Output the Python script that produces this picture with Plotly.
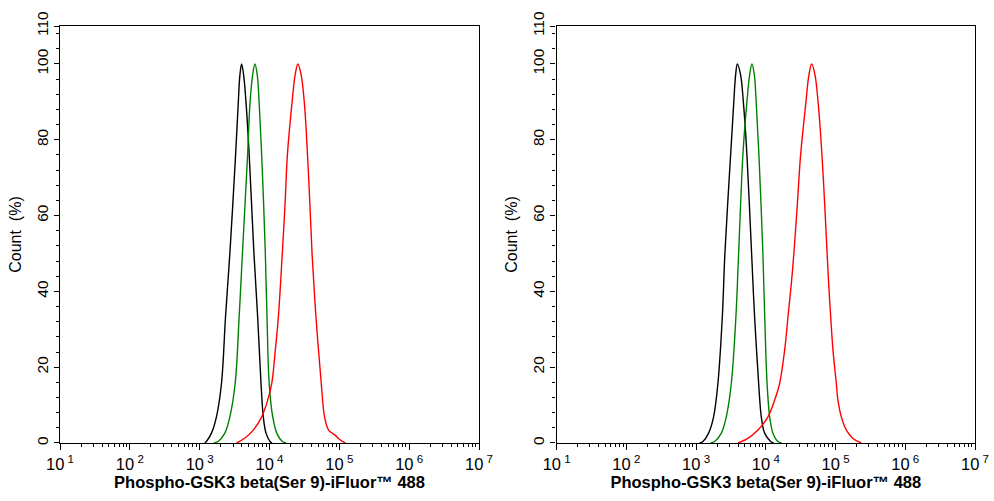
import numpy as np
import plotly.graph_objects as go

# ---- data (log10 fluorescence intensity, count %) ----
# Left panel
L_black_log = [3.072, 3.096, 3.168, 3.240, 3.312, 3.370, 3.432, 3.514, 3.551, 3.576, 3.600,
               3.629, 3.666, 3.709, 3.777, 3.830, 3.878, 3.911, 3.950, 4.007, 4.036]
L_black_y = [0, 0.4, 2.6, 6.9, 15.7, 33.3, 50, 76, 89.2, 97.1, 100,
             97.1, 89.2, 76, 50, 33.3, 15.7, 6.9, 2.6, 0.4, 0]
L_green_log = [3.201, 3.263, 3.360, 3.432, 3.508, 3.565, 3.612, 3.686, 3.719, 3.758, 3.791,
               3.824, 3.853, 3.888, 3.940, 3.964, 3.995, 4.046, 4.104, 4.184, 4.237]
L_green_y = [0, 0.4, 2.6, 6.9, 15.7, 33.3, 50, 76, 89.2, 97.1, 100,
             97.1, 89.2, 76, 50, 33.3, 15.7, 6.9, 2.6, 0.4, 0]
L_red_log = [3.528, 3.647, 3.767, 3.888, 3.974, 4.032, 4.083, 4.127, 4.183, 4.222, 4.256, 4.319, 4.367,
             4.406, 4.453, 4.501, 4.544, 4.578, 4.609, 4.665, 4.741, 4.788, 4.846, 4.942, 5.014, 5.086]
L_red_y = [0, 1.3, 3.4, 6.9, 11.3, 15.7, 24.5, 33.3, 50, 63, 76, 89.2, 97.1,
           100, 97.1, 89.2, 76, 63, 50, 33.3, 15.7, 6.9, 3.4, 2.0, 0.8, 0]

# Right panel
R_black_log = [3.050, 3.098, 3.179, 3.251, 3.313, 3.376, 3.413, 3.495, 3.538, 3.567, 3.591,
               3.638, 3.681, 3.729, 3.796, 3.839, 3.897, 3.935, 3.983, 4.069, 4.112]
R_black_y = [0, 0.4, 2.6, 6.9, 15.7, 33.3, 50, 76, 89.2, 97.1, 100,
             97.1, 89.2, 76, 50, 33.3, 15.7, 6.9, 2.6, 0.4, 0]
R_green_log = [3.208, 3.265, 3.362, 3.433, 3.505, 3.571, 3.610, 3.671, 3.725, 3.768, 3.801,
               3.835, 3.864, 3.901, 3.958, 3.984, 4.018, 4.055, 4.102, 4.174, 4.227]
R_green_y = [0, 0.4, 2.6, 6.9, 15.7, 33.3, 50, 76, 89.2, 97.1, 100,
             97.1, 89.2, 76, 50, 33.3, 15.7, 6.9, 2.6, 0.4, 0]
R_red_log = [3.600, 3.743, 3.887, 4.030, 4.126, 4.198, 4.270, 4.318, 4.366, 4.402, 4.452, 4.499, 4.571,
             4.618, 4.657, 4.705, 4.753, 4.805, 4.844, 4.879, 4.901, 4.930, 4.963, 5.011, 5.034,
             5.083, 5.155, 5.250, 5.370]
R_red_y = [0, 1.2, 3.4, 6.9, 11.3, 15.7, 24.5, 33.3, 42.1, 50, 63, 76, 89.2,
           97.1, 100, 97.1, 89.2, 76, 63, 50, 42.1, 33.3, 24.5, 15.7, 11.3,
           6.9, 3.4, 1.2, 0]

x_tick_exps = [1, 2, 3, 4, 5, 6, 7]
y_tick_vals = [0, 20, 40, 60, 80, 100, 110]
x_title = "Phospho-GSK3 beta(Ser 9)-iFluor™ 488"
y_title = "Count  (%)"

FONT = "Liberation Sans, Arial, sans-serif"

fig = go.Figure()

panels = [
    ("x", "y", [(L_black_log, L_black_y, "black"), (L_green_log, L_green_y, "#008000"),
                (L_red_log, L_red_y, "#ff0000")]),
    ("x2", "y2", [(R_black_log, R_black_y, "black"), (R_green_log, R_green_y, "#008000"),
                  (R_red_log, R_red_y, "#ff0000")]),
]
for xa, ya, series in panels:
    for lg, yy, col in series:
        fig.add_trace(go.Scatter(
            x=np.power(10.0, np.array(lg)), y=yy, mode="lines",
            line=dict(color=col, width=1.4, shape="spline", smoothing=1.0),
            xaxis=xa, yaxis=ya, showlegend=False, hoverinfo="skip"))

x_minor = [k * 10.0 ** d for d in range(1, 7) for k in range(2, 10)]
y_minor = [v for v in range(0, 111, 4) if v % 20 != 0]

def xaxis(domain, anchor):
    return dict(
        type="log", range=[1, 7], domain=domain, anchor=anchor, automargin=False,
        showline=True, linecolor="black", linewidth=1.3, mirror=True,
        showgrid=False, zeroline=False,
        tickmode="array", tickvals=[10.0 ** e for e in x_tick_exps],
        ticktext=["10<sup> %d</sup>" % e for e in x_tick_exps],
        ticks="outside", ticklen=6, tickwidth=1.2, tickcolor="black",
        minor=dict(tickmode="array", tickvals=x_minor, ticks="outside", ticklen=3,
                   tickwidth=1, tickcolor="black", showgrid=False),
        tickfont=dict(family=FONT, size=16.5, color="black"),
        title=dict(text="<b>%s</b>" % x_title, standoff=2,
                   font=dict(family=FONT, size=16.5, color="black")),
    )

def yaxis(anchor):
    return dict(
        range=[0, 110], domain=[0.1158, 0.948], anchor=anchor, automargin=False,
        showline=True, linecolor="black", linewidth=1.3, mirror=True,
        showgrid=False, zeroline=False,
        tickmode="array", tickvals=y_tick_vals, ticktext=[str(v) for v in y_tick_vals],
        ticks="outside", ticklen=5, tickwidth=1.2, tickcolor="black", tickangle=-90,
        minor=dict(tickmode="array", tickvals=y_minor, ticks="outside", ticklen=3,
                   tickwidth=1, tickcolor="black", showgrid=False),
        tickfont=dict(family=FONT, size=15.5, color="black"),
        title=dict(text=y_title, standoff=8, font=dict(family=FONT, size=16, color="black")),
    )

fig.update_layout(
    width=994, height=501, margin=dict(l=0, r=0, t=0, b=0, autoexpand=False),
    paper_bgcolor="white", plot_bgcolor="white",
    xaxis=xaxis([0.0604, 0.4819], "y"),
    yaxis=yaxis("x"),
    xaxis2=xaxis([0.5600, 0.9809], "y2"),
    yaxis2=yaxis("x2"),
)

fig.write_html("out.html")
